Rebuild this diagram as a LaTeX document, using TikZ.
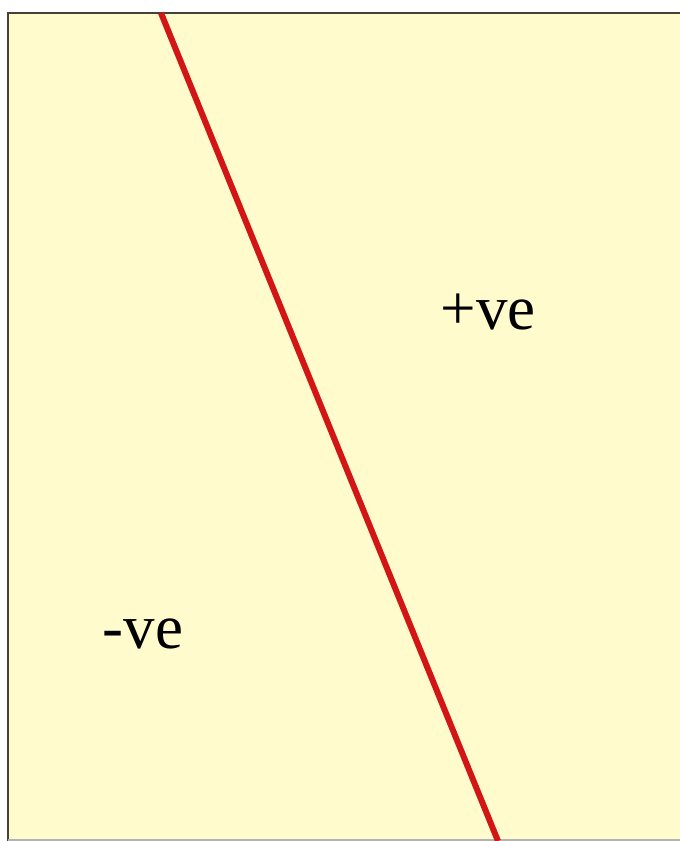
\documentclass[tikz,border=0pt]{standalone}
\usepackage{fontspec}
\setmainfont{Liberation Serif}
\definecolor{paper}{RGB}{255,251,204}
\definecolor{frame}{RGB}{70,66,56}
\definecolor{sep}{RGB}{210,22,22}
\tikzset{lbl/.style={font=\fontsize{63}{70}\selectfont, text=black, inner sep=0pt}}
\begin{document}
\begin{tikzpicture}[x=1pt,y=-1pt]
\useasboundingbox (0,0) rectangle (680,841);
\fill[white] (0,0) rectangle (680,841);
\fill[paper] (8,13) rectangle (680,841);
\draw[frame, line width=2pt] (8,841) -- (8,13) -- (680,13);
\draw[gray!60, line width=1.5pt] (8,840) -- (680,840);
\coordinate (top) at (161,13);
\coordinate (bot) at (498,841);
\draw[sep, line width=6pt] (top) -- (bot);
\node[lbl] (pos) at (488,312) {+ve};
\node[lbl] (neg) at (143,634) {-ve};
\end{tikzpicture}
\end{document}
